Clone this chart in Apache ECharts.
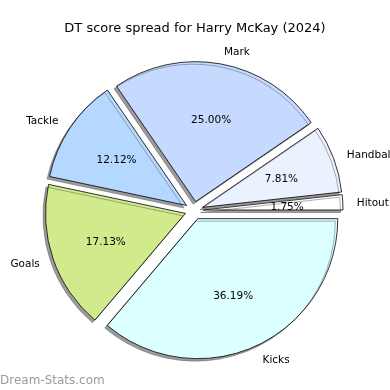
<!DOCTYPE html>
<html><head><meta charset="utf-8">
<script src="https://cdn.jsdelivr.net/npm/echarts@6/dist/echarts.min.js"></script>
<style>html,body{margin:0;padding:0;background:#fff}#c{width:390px;height:390px}</style>
</head><body><div id="c"></div>
<script>
const categories = ['Hitout', 'Handball', 'Mark', 'Tackle', 'Goals', 'Kicks'];
const shares = [1.75, 7.81, 25.00, 12.12, 17.13, 36.19];
const colors = ['#ffffff', '#eaf2ff', '#c6d9ff', '#b4d8ff', '#d1ea8b', '#dcffff'];
const titleText = 'DT score spread for Harry McKay (2024)';
const watermark = 'Dream-Stats.com';

const R = 140, C = [194, 210.5], OFF = 9;
const font = 'DejaVu Sans';
const chart = echarts.init(document.getElementById('c'), null, {renderer: 'canvas'});
const mainData = categories.map((n, i) => ({name: n, value: shares[i], selected: true,
  itemStyle: {color: colors[i]}}));
const pctData = categories.map((n, i) => ({name: n, value: shares[i], selected: true}));
chart.setOption({
  animation: false,
  title: {text: titleText, left: 'center', top: 17,
    textStyle: {fontFamily: font, fontSize: 13, fontWeight: 'normal', color: '#000'}},
  graphic: [{type: 'text', left: 0, top: 375,
    style: {text: watermark, fontFamily: font, fontSize: 12, fontWeight: 'normal', fill: '#9a9a9a'}}],
  series: [{
    type: 'pie', radius: [0, R], center: C, startAngle: 0, clockwise: false,
    selectedMode: 'multiple', selectedOffset: OFF, avoidLabelOverlap: false,
    data: mainData,
    itemStyle: {borderColor: '#000', borderWidth: 0.8,
      shadowColor: 'rgba(90,90,90,0.6)', shadowBlur: 0, shadowOffsetX: -2.5, shadowOffsetY: 2.5},
    label: {show: true, position: 'outside', formatter: '{b}', fontFamily: font, fontSize: 10.5,
      color: '#000', distanceToLabelLine: 0, overflow: 'none'},
    labelLine: {show: false, length: R * 0.1, length2: 0},
    labelLayout: {dy: 1.5},
    emphasis: {disabled: true}, silent: true
  }, {
    type: 'pie', radius: [0, R * 1.16], center: C, startAngle: 0, clockwise: false,
    selectedMode: 'multiple', selectedOffset: OFF, avoidLabelOverlap: false,
    data: pctData, silent: true, z: 5,
    itemStyle: {color: 'rgba(0,0,0,0)', borderWidth: 0},
    label: {show: true, position: 'inside', fontFamily: font, fontSize: 10.5, color: '#000',
      formatter: p => p.value.toFixed(2) + '%'},
    labelLine: {show: false},
    labelLayout: {dy: 1.5},
    emphasis: {disabled: true}
  }]
});
</script></body></html>
